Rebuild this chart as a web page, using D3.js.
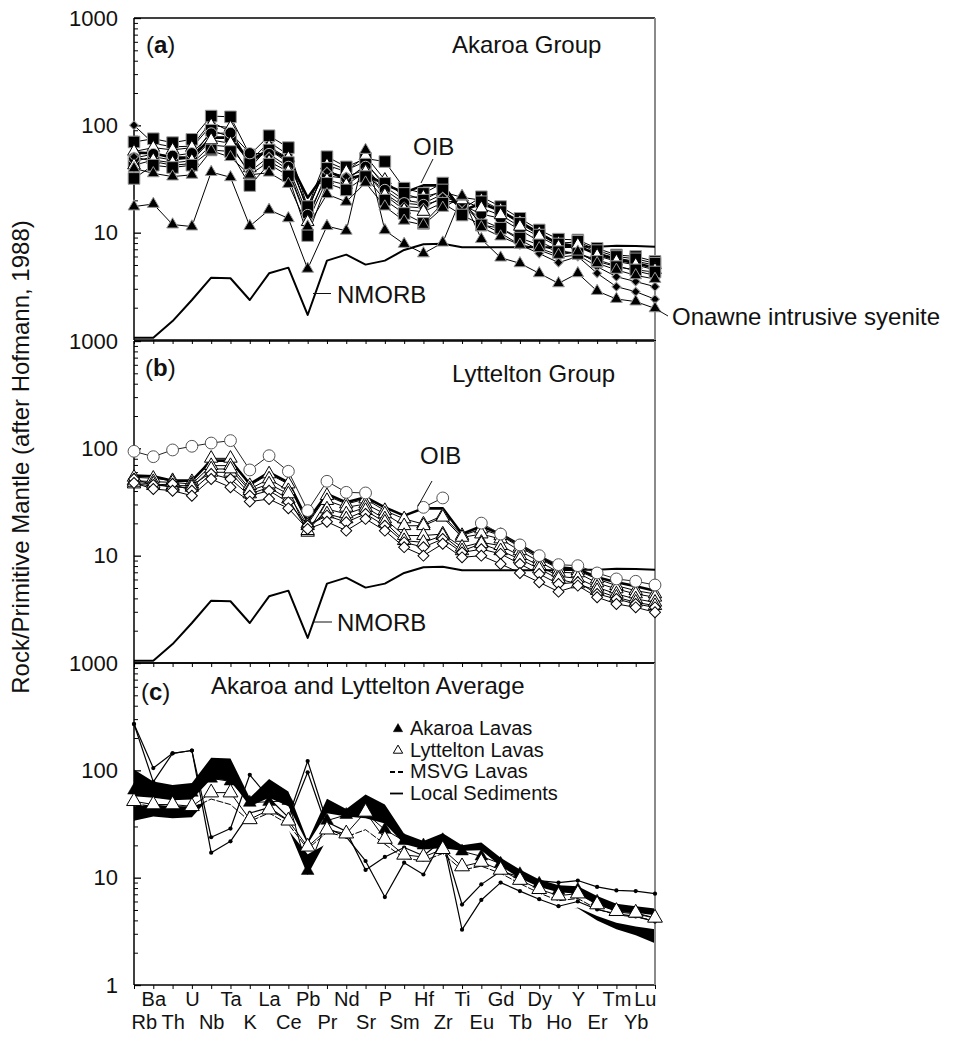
<!DOCTYPE html>
<html>
<head>
<meta charset="utf-8">
<script src="https://cdn.jsdelivr.net/npm/d3@7"></script>
<style>
  html, body { margin: 0; padding: 0; background: #fff; }
  svg { display: block; }
</style>
</head>
<body>
<svg id="chart" width="965" height="1043"></svg>
<script>
// Trace elements in spider-diagram order
const elements = ["Rb","Ba","Th","U","Nb","Ta","K","La","Ce","Pb","Pr","Nd","Sr","P","Sm","Hf","Zr","Ti","Eu","Gd","Tb","Dy","Ho","Y","Er","Tm","Yb","Lu"];

// Reference compositions (rock / primitive mantle)
const oib   = [55.7, 55, 50, 50, 76.8, 76.8, 46.5, 59.8, 48.2, 21.2, 37.6, 31.4, 35, 28.2, 23.6, 27.6, 27.6, 15.9, 18.8, 15.9, 12.6, 9.9, 7.8, 7.5, 6.3, 5.65, 5.2, 4.7];
const nmorb = [1.05, 1.05, 1.5, 2.36, 3.81, 3.76, 2.36, 4.18, 4.72, 1.71, 5.49, 6.24, 5.04, 5.49, 6.9, 7.8, 7.9, 7.3, 7.3, 7.3, 7.3, 7.3, 7.3, 7.4, 7.4, 7.55, 7.5, 7.4];

// (a) Akaroa Group samples
const akaroaSqHigh  = [70, 75, 69, 74, 122, 120, 53, 80, 62, 17.3, 51, 41, 49, 46, 26, 23.2, 29, 16.5, 21.6, 17.5, 13.6, 10.6, 8.7, 8.55, 7.15, 6.2, 6.0, 5.4];
const akaroaSqMid   = [46, 51, 47.5, 49.5, 90, 78, 44, 59, 45, 17.5, 39.7, 30, 43.5, 28.8, 23.2, 20.1, 25, 15.7, 19.4, 15.7, 12.2, 9.5, 7.85, 8.3, 6.8, 6.0, 5.7, 5.19];
const akaroaSqLow   = [32, 42.5, 40.5, 42.5, 59, 57, 27.5, 43.5, 33.8, 9.4, 28.8, 25, 33.3, 20.1, 15.1, 12.2, 18.8, 14.6, 11.8, 11, 8.9, 7.7, 6.65, 6.4, 5.4, 4.82, 4.5, 4.3];
const akaroaCircle  = [49.5, 54, 52, 55, 84, 85, 55, 54, 41, 14.6, 33.8, 32, 41, 25, 18.8, 18.1, 20.4, 18.1, 14.9, 13.6, 10.6, 8.3, 6.8, 6.4, 5.6, 4.9, 4.4, 4.0];
const akaroaOpenA   = [57, 62, 59, 62, 100, 95, 40, 63, 49.5, 16.3, 42.5, 37, 52, 31, 21.3, 21.6, 24, 21.3, 20.1, 16.3, 12.6, 9.9, 8, 8.1, 6.5, 5.8, 5.4, 5.0];
const akaroaOpenB   = [42.5, 47.5, 44.7, 46.8, 73, 68, 34.6, 46, 37, 12.6, 31, 27.8, 37, 22.4, 16.3, 15.7, 19, 20.1, 16.9, 14.6, 11.4, 9.2, 7.4, 7.7, 6.1, 5.4, 5.0, 4.5];
const akaroaTri     = [39.7, 35.7, 33.3, 34.6, 58, 50.5, 34.6, 36.2, 28.4, 11.4, 22.8, 19.4, 29.2, 17.5, 12.9, 11.8, 17, 21.6, 11.2, 9.2, 7.7, 7.15, 6.2, 6.65, 5.19, 4.5, 4.0, 3.7];
const akaroaDiamA   = [100, 68, 63, 64, 108, 87, 46, 70, 53, 15.7, 46, 38.4, 46, 26.9, 20.1, 18.8, 22.8, 18.8, 13.1, 11, 8.55, 6.9, 5.9, 6.2, 4.82, 3.89, 3.5, 3.14];
const akaroaDiamB   = [51, 46, 42.5, 44, 65.5, 63, 37, 51, 38.4, 13.1, 37, 33.3, 38.4, 23.2, 17.5, 17, 21.6, 18.8, 12.2, 9.9, 7.7, 6.4, 5.26, 6.0, 4.18, 3.14, 2.82, 2.4];
const syenite       = [17.5, 18.5, 11.9, 11.4, 36.7, 32.8, 11.5, 16.3, 13.6, 4.6, 11.5, 10.4, 58.9, 10.5, 7.85, 6.4, 8.07, 22, 8.7, 5.85, 5.18, 4.18, 3.37, 4.18, 2.86, 2.41, 2.28, 1.97];

// (b) Lyttelton Group samples
const lytTriA   = [53.7, 52.6, 50, 48.9, 80.7, 80.7, 44.9, 57.7, 46.5, 19.7, 36.2, 30.3, 33.7, 26.3, 22, 19.7, 23.6, 15.4, 17.7, 15.4, 12, 9.45, 7.52, 7.25, 6.07, 5.26, 4.72, 4.4];
const lytTriB   = [50, 48.9, 48.2, 46.5, 69, 69, 41.8, 51.8, 40.3, 16.5, 32.6, 28.2, 30.3, 24.5, 19, 19, 22.8, 14.8, 15.9, 14.3, 11.1, 8.8, 7, 6.9, 5.57, 4.9, 4.4, 4.1];
const lytTriC   = [46.5, 44.9, 44.9, 44.9, 59.8, 59.8, 37.6, 43.3, 33.7, 17.1, 27.2, 24.5, 28.2, 22, 15.4, 15.4, 15.9, 12, 13.3, 12.4, 10, 8.07, 6.42, 6.15, 5.07, 4.4, 3.95, 3.68];
const lytTriD   = [48.2, 46.5, 43.3, 43.3, 64.2, 64.2, 40.3, 46.5, 37.6, 19, 24.5, 22, 26.3, 20.5, 13.8, 13.3, 15.4, 11.1, 12.9, 11.1, 9.3, 7.52, 6.07, 5.45, 4.72, 4.1, 3.68, 3.42];
const lytDiamA  = [51.8, 45.6, 46.5, 40.3, 57.7, 51.8, 36.2, 40.3, 31.4, 19, 23.6, 20.5, 24.5, 19, 13.3, 12, 14.3, 10.7, 11.5, 10.4, 8.37, 6.75, 5.45, 5.65, 4.4, 3.95, 3.55, 3.3];
const lytDiamB  = [47.6, 41.8, 40.3, 36.2, 51.8, 43.3, 31.9, 33.7, 27.6, 17.7, 20.7, 17.1, 22, 17.1, 12, 10, 12.9, 9.65, 10, 8.37, 6.9, 5.65, 4.62, 5.26, 4.1, 3.55, 3.3, 2.97];
const oibSample = [93.8, 83.6, 96.6, 104.5, 112, 118, 62.9, 85.4, 61.1, 26.3, 49.3, 38.9, 38.4, null, null, 28.2, 34.5, null, 20.1, 15.9, 12.6, 10.0, 8.25, 8.07, 6.9, 6.07, 5.77, 5.33];

// (c) Fields and averages
const akaroaHigh    = [102, 78.5, 72.9, 76.2, 131, 129, 55.5, 83.2, 63.4, 22, 54.3, 43.6, 59.7, 48, 25.6, 22, 26, 20, 21.3, 15.3, 11.9, 9.6, 8.5, 8.3, 6.74, 5.71, 5.42, 5.16];
const akaroaLow     = [33.9, 37.1, 35.7, 36.5, 58, 50.5, 33, 36.2, 28.4, 10.6, 22.8, 19.4, 29.2, 17.5, 12.9, 11.8, 17, 14.6, 11.2, 9.2, 7.7, 6.4, 5.26, 5.2, 4.0, 3.3, 2.9, 2.45];
const lytteltonHigh = [57.5, 55.5, 52.7, 53.5, 83.2, 80.2, 46.2, 55.5, 46.2, 20.6, 39.9, 37.1, 35.7, 31.9, 20.6, 18.4, 18.8, 17.8, 18, 12.8, 9.9, 8.2, 7.3, 7.1, 5.62, 4.87, 4.7, 4.47];
const lytteltonLow  = [46.2, 48, 46.2, 46.2, 51.8, 43.3, 31.9, 33.7, 27.6, 16.5, 20.7, 17.1, 22, 17.1, 12, 10, 12.9, 9.65, 10, 8.37, 6.9, 5.65, 4.62, 5.26, 4.4, 3.8, 3.5, 3.3];
const akaroaAvg     = [65, 63, 60, 62, 84, 79, 50, 51, 52, 11.6, 34, 38.5, 40, 28, 22, 20, 22.4, 17.6, 15.8, 13.5, 10.8, 8.8, 7.6, 7.7, 6.0, 4.8, 4.6, 4.2];
const lytteltonAvg  = [51.5, 48, 48, 46.2, 62, 62, 34.9, 43, 33.9, 19.4, 28, 25.7, 41, 22.9, 16.3, 15.6, 18.4, 12.7, 14, 11.8, 9.5, 7.8, 6.8, 7.1, 5.62, 4.87, 4.7, 4.22];
const msvgAvg       = [49, 46, 46, 44.5, 54, 48, 33.5, 40, 31.5, 18.5, 26.5, 24, 28, 20.5, 15.2, 14.3, 16.8, 11.8, 12.8, 11, 8.8, 7.2, 6.1, 6.4, 5.1, 4.5, 4.3, 4.0];
const sedimentA     = [270, 105, 144, 153, 23.8, 28.7, 90.9, 55, 36.5, 122, 33, 27, 11.8, 15.6, 19.1, 16, 22.4, 5.62, 8.66, 11.5, 10.2, 9.4, 9.0, 9.4, 8.2, 7.6, 7.5, 7.1];
const sedimentB     = [270, 78, 144, 153, 17.1, 21.8, 40, 45, 34, 96, 29, 24, 14.3, 6.6, 13.8, 10.7, 22.9, 3.28, 6.2, 9.0, 7.5, 6.3, 5.42, 6.0, 5.05, 4.6, 4.35, 3.9];

// Axis ticks
const majorTicks = [1, 10, 100, 1000];
const minorTicks = [1, 10, 100].flatMap(d => d3.range(2, 10).map(k => k * d));

const FONT = "'Liberation Sans', Arial, Helvetica, sans-serif";
const svg = d3.select("#chart").style("font-family", FONT);

const X0 = 134, X1 = 655, PANEL_H = 322;
const panelTops = [18, 341, 663];
const x = d3.scalePoint().domain(elements).range([X0, X1]);
const yScales = panelTops.map(t => d3.scaleLog().domain([1, 1000]).range([t + PANEL_H, t]));

const rows = v => elements.map((e, i) => ({ e, v: v[i] }));

function frame(p, withLabels) {
  const y = yScales[p], top = panelTops[p], bottom = top + PANEL_H;
  const g = svg.append("g");
  // minor ticks
  g.append("g").attr("transform", `translate(${X0},0)`)
    .call(d3.axisLeft(y).tickValues(minorTicks).tickSizeInner(-4).tickSizeOuter(0).tickFormat(""))
    .call(a => a.select(".domain").remove())
    .call(a => a.selectAll("line").attr("stroke-width", 1));
  // major ticks with labels
  const majors = p === 2 ? majorTicks : majorTicks.slice(1);
  g.append("g").attr("transform", `translate(${X0},0)`)
    .call(d3.axisLeft(y).tickValues(majors).tickSizeInner(-7).tickSizeOuter(0).tickPadding(16).tickFormat(d3.format("d")))
    .call(a => a.select(".domain").remove())
    .call(a => a.selectAll("line").attr("stroke-width", 1.3))
    .call(a => a.selectAll("text").attr("font-size", 22).attr("font-family", FONT).attr("fill", "#111"));
  // category ticks along the bottom
  const xa = g.append("g").attr("transform", `translate(0,${bottom})`)
    .call(d3.axisBottom(x).tickSize(4).tickFormat(withLabels ? (d => d) : ""))
    .call(a => a.select(".domain").remove())
    .call(a => a.selectAll("line").attr("stroke-width", 1));
  if (withLabels) {
    const last = elements.length - 1;
    // names alternate between two rows; the end names are kept inside the frame
    xa.selectAll("text")
      .attr("font-size", 20).attr("font-family", FONT).attr("fill", "#111")
      .attr("dy", null)
      .attr("text-anchor", (d, i) => (i === 0 ? "start" : i === last ? "end" : "middle"))
      .attr("x", (d, i) => (i === 0 ? -3 : i === last ? 1 : 0))
      .attr("y", (d, i) => (i % 2 ? 21 : 44));
  }
  // panel frame
  g.append("line").attr("x1", X0).attr("x2", X0).attr("y1", top).attr("y2", bottom).attr("stroke", "#000").attr("stroke-width", 1.5);
  g.append("line").attr("x1", X0).attr("x2", X1).attr("y1", bottom).attr("y2", bottom).attr("stroke", "#000").attr("stroke-width", 1.5);
  g.append("line").attr("x1", X0).attr("x2", X1).attr("y1", top).attr("y2", top).attr("stroke", "#000").attr("stroke-width", 1.5);
  g.append("line").attr("x1", X1).attr("x2", X1).attr("y1", top).attr("y2", bottom).attr("stroke", "#8a8a8a").attr("stroke-width", 2);
}

function drawLine(g, p, values, opts = {}) {
  const y = yScales[p];
  const line = d3.line().defined(d => d.v != null).x(d => x(d.e)).y(d => y(d.v));
  g.append("path").attr("d", line(rows(values)))
    .attr("fill", "none")
    .attr("stroke", opts.stroke || "#000")
    .attr("stroke-width", opts.width || 1)
    .attr("stroke-dasharray", opts.dash || null)
    .attr("stroke-linejoin", "round");
}

function drawMarks(g, p, values, opts) {
  const y = yScales[p];
  g.append("g").selectAll("path")
    .data(rows(values).filter(d => d.v != null))
    .join("path")
    .attr("transform", d => `translate(${x(d.e)},${y(d.v)})${opts.rotate ? " rotate(45)" : ""}`)
    .attr("d", d3.symbol().type(opts.type).size(opts.size))
    .attr("fill", opts.fill)
    .attr("stroke", opts.stroke)
    .attr("stroke-width", opts.sw || 1);
}

function label(txt, px, py, size, anchor) {
  return svg.append("text").attr("x", px).attr("y", py)
    .attr("font-size", size).attr("fill", "#111")
    .attr("text-anchor", anchor || "start").text(txt);
}
function panelTag(letter, px, py) {
  const t = svg.append("text").attr("x", px).attr("y", py).attr("font-size", 24).attr("fill", "#111");
  t.append("tspan").text("(");
  t.append("tspan").attr("font-weight", "bold").text(letter);
  t.append("tspan").text(")");
}
function leader(xa, ya, xb, yb) {
  svg.append("line").attr("x1", xa).attr("y1", ya).attr("x2", xb).attr("y2", yb)
    .attr("stroke", "#111").attr("stroke-width", 1);
}

const SQ = d3.symbolSquare, CI = d3.symbolCircle, TR = d3.symbolTriangle;

// ---------- (a) Akaroa Group ----------
frame(0, false);
{
  const g = svg.append("g");
  drawLine(g, 0, nmorb, { width: 2 });
  drawLine(g, 0, oib, { width: 2.6 });
  const series = [
    [akaroaDiamA, { type: SQ, size: 40, fill: "#000", stroke: "#999", rotate: true }],
    [akaroaSqHigh, { type: SQ, size: 135, fill: "#000", stroke: "#999" }],
    [akaroaOpenA, { type: TR, size: 70, fill: "#fff", stroke: "#000" }],
    [akaroaSqMid, { type: SQ, size: 135, fill: "#000", stroke: "#999" }],
    [akaroaCircle, { type: CI, size: 100, fill: "#000", stroke: "#bbb" }],
    [akaroaDiamB, { type: SQ, size: 40, fill: "#000", stroke: "#999", rotate: true }],
    [akaroaOpenB, { type: TR, size: 70, fill: "#fff", stroke: "#000" }],
    [akaroaSqLow, { type: SQ, size: 135, fill: "#000", stroke: "#999" }],
    [akaroaTri, { type: TR, size: 60, fill: "#000", stroke: "#999" }],
    [syenite, { type: TR, size: 60, fill: "#000", stroke: "#999" }]
  ];
  series.forEach(([v]) => drawLine(g, 0, v, { width: 1 }));
  series.forEach(([v, o]) => drawMarks(g, 0, v, o));
}
panelTag("a", 146, 53);
label("Akaroa Group", 452, 53, 24);
label("OIB", 413, 155, 24);
leader(433, 159, 421, 183);
label("NMORB", 337, 303, 24);
leader(313, 293.5, 331, 293.5);
leader(656, 309, 668, 316);
label("Onawne intrusive syenite", 672, 325, 24);

// ---------- (b) Lyttelton Group ----------
frame(1, false);
{
  const g = svg.append("g");
  drawLine(g, 1, nmorb, { width: 2 });
  const series = [
    [lytTriA, { type: TR, size: 78, fill: "#fff", stroke: "#000" }],
    [lytTriB, { type: TR, size: 78, fill: "#fff", stroke: "#000" }],
    [lytTriC, { type: TR, size: 78, fill: "#fff", stroke: "#000" }],
    [lytTriD, { type: TR, size: 78, fill: "#fff", stroke: "#000" }],
    [lytDiamA, { type: SQ, size: 60, fill: "#fff", stroke: "#000", rotate: true }],
    [lytDiamB, { type: SQ, size: 60, fill: "#fff", stroke: "#000", rotate: true }]
  ];
  series.forEach(([v]) => drawLine(g, 1, v, { width: 1 }));
  drawLine(g, 1, oib, { width: 2.6 });
  series.forEach(([v, o]) => drawMarks(g, 1, v, o));
  drawLine(g, 1, oibSample, { width: 1, stroke: "#222" });
  drawMarks(g, 1, oibSample, { type: CI, size: 110, fill: "#fff", stroke: "#555" });
}
panelTag("b", 145, 376);
label("Lyttelton Group", 452, 382, 24);
label("OIB", 420, 464, 24);
leader(432, 481, 418, 506);
label("NMORB", 337, 631, 24);
leader(314, 622, 332, 622);

// ---------- (c) Akaroa and Lyttelton Average ----------
{
  const y = yScales[2];
  const band = (hi, lo) => d3.area().x(d => x(d.e)).y0(d => y(d.lo)).y1(d => y(d.hi))(
    elements.map((e, i) => ({ e, hi: hi[i], lo: lo[i] })));
  svg.append("path").attr("d", band(akaroaHigh, akaroaLow)).attr("fill", "#000");
  svg.append("path").attr("d", band(lytteltonHigh, lytteltonLow)).attr("fill", "#fff");
}
frame(2, true);
{
  const g = svg.append("g");
  drawLine(g, 2, sedimentA, { width: 1.2 });
  drawLine(g, 2, sedimentB, { width: 1.2 });
  drawLine(g, 2, msvgAvg, { width: 1, dash: "7,1.5" });
  drawLine(g, 2, lytteltonAvg, { width: 1 });
  drawLine(g, 2, akaroaAvg, { width: 1 });
  drawMarks(g, 2, sedimentA, { type: CI, size: 14, fill: "#000", stroke: "none" });
  drawMarks(g, 2, sedimentB, { type: CI, size: 14, fill: "#000", stroke: "none" });
  drawMarks(g, 2, akaroaAvg, { type: TR, size: 70, fill: "#000", stroke: "#000", sw: 0.5 });
  drawMarks(g, 2, lytteltonAvg, { type: TR, size: 95, fill: "#fff", stroke: "#000" });
}
panelTag("c", 141, 700);
label("Akaroa and Lyttelton Average", 211, 694, 24);

// legend
{
  const lg = svg.append("g");
  const items = [
    { name: "Akaroa Lavas", kind: "filled" },
    { name: "Lyttelton Lavas", kind: "open" },
    { name: "MSVG Lavas", kind: "dash" },
    { name: "Local Sediments", kind: "solid" }
  ];
  items.forEach((it, i) => {
    const by = 735 + i * 21.5;
    const cy = by - 6;
    if (it.kind === "filled" || it.kind === "open") {
      lg.append("path").attr("transform", `translate(398,${cy})`)
        .attr("d", d3.symbol().type(TR).size(38))
        .attr("fill", it.kind === "filled" ? "#000" : "#fff")
        .attr("stroke", "#000").attr("stroke-width", it.kind === "filled" ? 0.5 : 1);
    } else {
      lg.append("line").attr("x1", 390).attr("x2", 403).attr("y1", cy).attr("y2", cy)
        .attr("stroke", "#000").attr("stroke-width", 1.8)
        .attr("stroke-dasharray", it.kind === "dash" ? "5,3" : null);
    }
    lg.append("text").attr("x", 410).attr("y", by).attr("font-size", 20).attr("fill", "#111").text(it.name);
  });
}

// y-axis title
svg.append("text")
  .attr("transform", "translate(29,457) rotate(-90)")
  .attr("text-anchor", "middle")
  .attr("font-size", 24).attr("fill", "#111")
  .text("Rock/Primitive Mantle (after Hofmann, 1988)");
</script>
</body>
</html>
